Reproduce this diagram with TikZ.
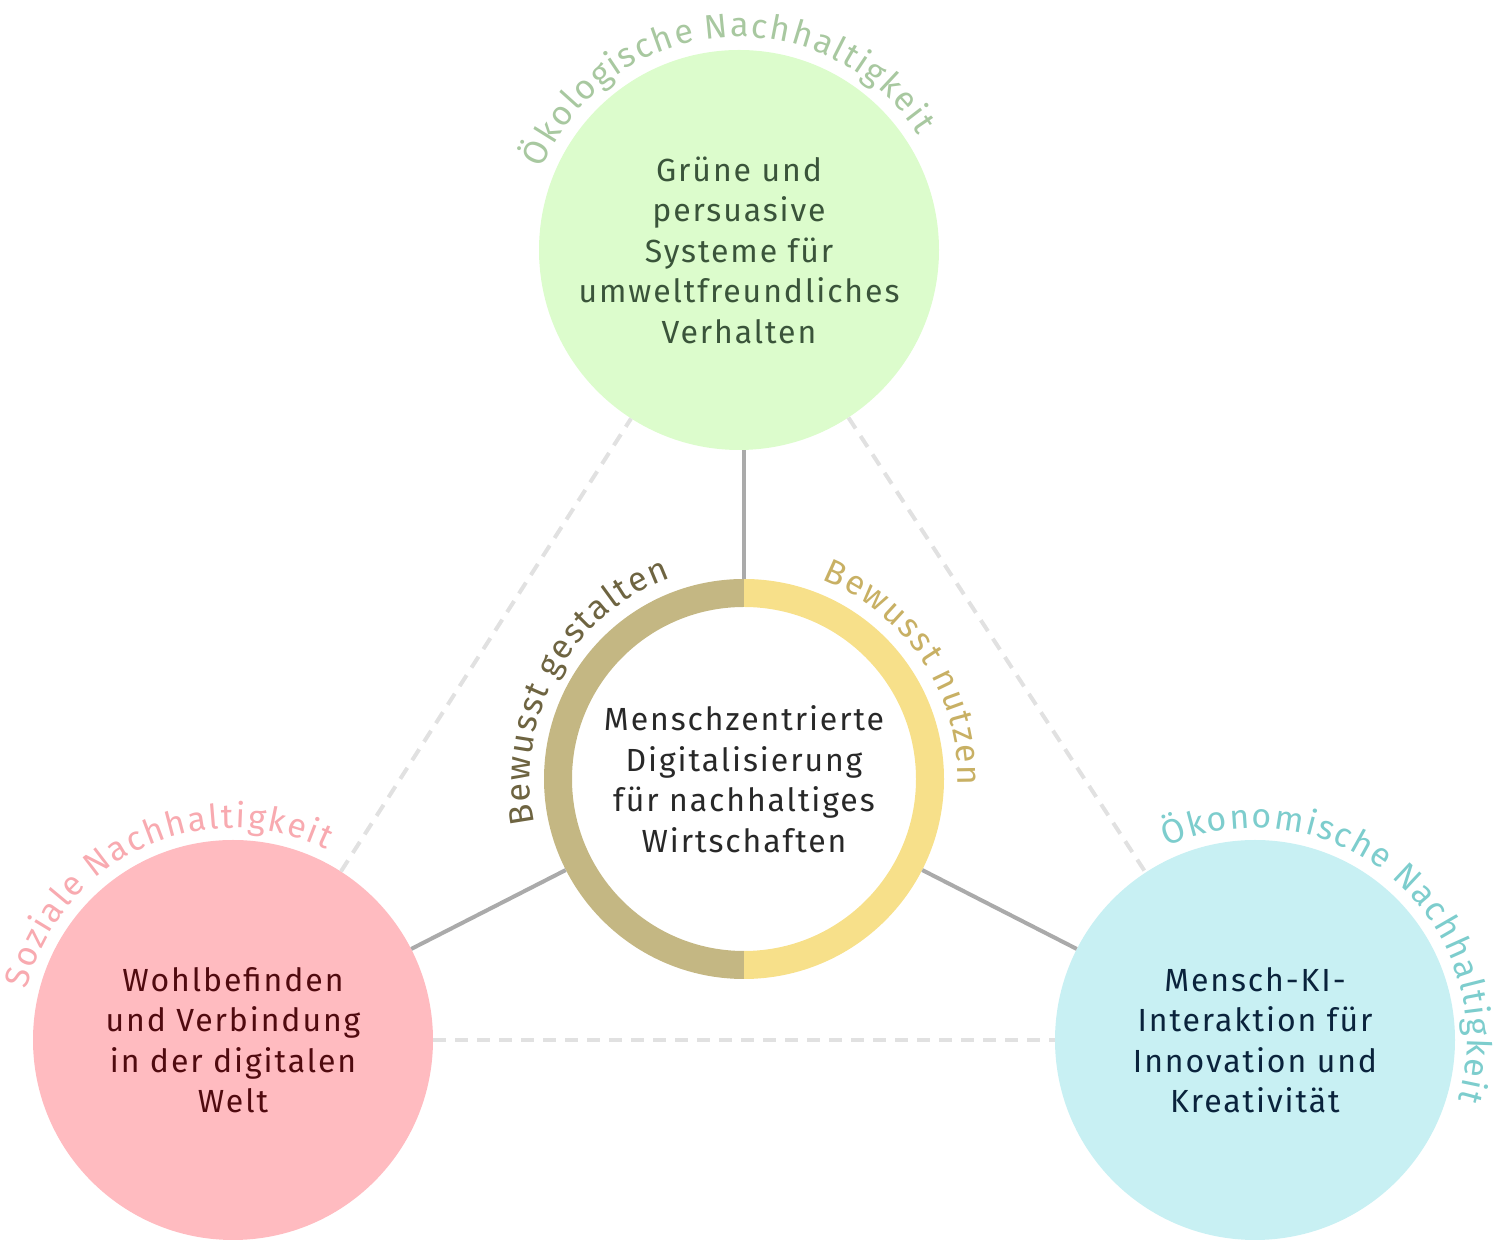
\documentclass[tikz,border=0pt]{standalone}
\usepackage{fontspec}
\setmainfont[LetterSpace=6]{Fira Sans}
\newfontfamily\lblfont{Fira Sans}
\usetikzlibrary{decorations.text}
\definecolor{oekfill}{RGB}{220,252,204}
\definecolor{oektext}{RGB}{58,84,58}
\definecolor{oeklabel}{RGB}{168,200,160}
\definecolor{sozfill}{RGB}{255,187,192}
\definecolor{soztext}{RGB}{80,10,15}
\definecolor{sozlabel}{RGB}{248,170,176}
\definecolor{okofill}{RGB}{200,240,243}
\definecolor{okotext}{RGB}{10,35,60}
\definecolor{okolabel}{RGB}{125,205,205}
\definecolor{ringL}{RGB}{196,183,131}
\definecolor{ringR}{RGB}{247,224,138}
\definecolor{gestaltlabel}{RGB}{110,100,65}
\definecolor{nutzlabel}{RGB}{200,176,100}
\definecolor{coretext}{RGB}{40,40,40}
\definecolor{spokegray}{RGB}{170,170,170}
\definecolor{dashgray}{RGB}{225,225,225}
\newcommand\K{\kern1.8pt}
\newcommand\LF{\lblfont\fontsize{34}{34}\selectfont}
\tikzset{
  bigcirc/.style={circle, minimum size=400pt, inner sep=0pt, align=center,
    font=\fontsize{32}{40.5}\selectfont},
  spoke/.style={draw=spokegray, line width=4pt},
  rim/.style={draw=dashgray, line width=4pt, dash pattern=on 13pt off 9pt},
  arclabel/.style={decorate, decoration={text along path, text align=center, text color=#1}},
}
\begin{document}
\begin{tikzpicture}[x=1pt,y=1pt]
\useasboundingbox (0,0) rectangle (1500,1255);
% outer circles
\node[bigcirc, fill=oekfill, text=oektext] (oek) at (739,1005)
  {Grüne und\\persuasive\\Systeme für\\umweltfreundliches\\Verhalten};
\node[bigcirc, fill=sozfill, text=soztext] (soz) at (233,215)
  {Wohlbefinden\\und Verbindung\\in der digitalen\\Welt};
\node[bigcirc, fill=okofill, text=okotext] (oko) at (1255,215)
  {Mensch-KI-\\Interaktion für\\Innovation und\\Kreativität};
% ring
\node[circle, minimum size=400pt, inner sep=0pt] (ring) at (744,476) {};
\fill[ringL] (ring.center) ++(90:200pt) arc[start angle=90, end angle=270, radius=200pt]
  -- ++(0,28pt) arc[start angle=270, end angle=90, radius=172pt] -- cycle;
\fill[ringR] (ring.center) ++(90:200pt) arc[start angle=90, end angle=-90, radius=200pt]
  -- ++(0,28pt) arc[start angle=-90, end angle=90, radius=172pt] -- cycle;
\node[align=center, text=coretext, font=\fontsize{32}{40.5}\selectfont] (core) at (ring.center)
  {Menschzentrierte\\Digitalisierung\\für nachhaltiges\\Wirtschaften};
% connectors
\draw[spoke] (ring.north) -- (ring.north |- oek.south);
\draw[spoke] (ring) -- (soz);
\draw[spoke] (ring) -- (oko);
\draw[rim] (soz) -- (oek);
\draw[rim] (oek) -- (oko);
\draw[rim] (soz) -- (oko);
% curved labels
\path[arclabel=oeklabel, decoration={text={|\LF|{Ö\K}{k\K}{o\K}{l\K}{o\K}{g\K}{i\K}{s\K}{c\K}{h\K}{e\K} {N\K}{a\K}{c\K}{h\K}{h\K}{a\K}{l\K}{t\K}{i\K}{g\K}{k\K}{e\K}{i\K}{t}}}]
  (oek.center) ++(185:213pt) arc[start angle=185, end angle=5, radius=213pt];
\path[arclabel=sozlabel, decoration={text={|\LF|{S\K}{o\K}{z\K}{i\K}{a\K}{l\K}{e\K} {N\K}{a\K}{c\K}{h\K}{h\K}{a\K}{l\K}{t\K}{i\K}{g\K}{k\K}{e\K}{i\K}{t}}}]
  (soz.center) ++(205:212pt) arc[start angle=205, end angle=25, radius=212pt];
\path[arclabel=okolabel, decoration={text={|\LF|{Ö\K}{k\K}{o\K}{n\K}{o\K}{m\K}{i\K}{s\K}{c\K}{h\K}{e\K} {N\K}{a\K}{c\K}{h\K}{h\K}{a\K}{l\K}{t\K}{i\K}{g\K}{k\K}{e\K}{i\K}{t}}}]
  (oko.center) ++(139:212pt) arc[start angle=139, end angle=-41, radius=212pt];
\path[arclabel=gestaltlabel, decoration={text={|\LF|{B\K}{e\K}{w\K}{u\K}{s\K}{s\K}{t\K} {g\K}{e\K}{s\K}{t\K}{a\K}{l\K}{t\K}{e\K}{n}}}]
  (ring.center) ++(231:214pt) arc[start angle=231, end angle=71, radius=214pt];
\path[arclabel=nutzlabel, decoration={text={|\LF|{B\K}{e\K}{w\K}{u\K}{s\K}{s\K}{t\K} {n\K}{u\K}{t\K}{z\K}{e\K}{n}}}]
  (ring.center) ++(113.5:214pt) arc[start angle=113.5, end angle=-46.5, radius=214pt];
\end{tikzpicture}
\end{document}
